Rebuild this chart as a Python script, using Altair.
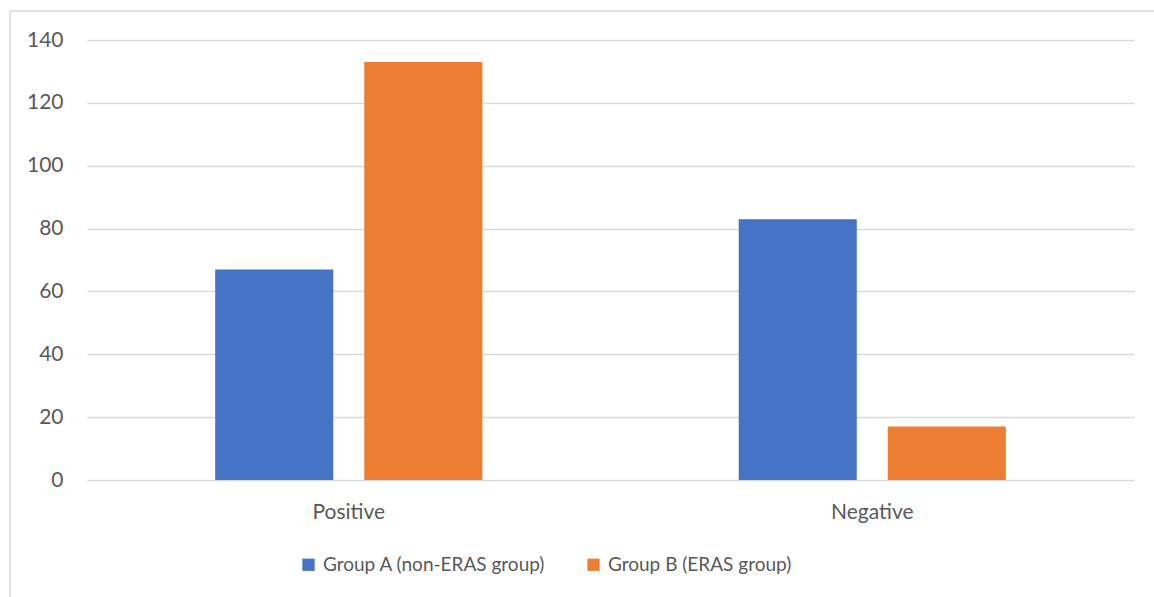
import altair as alt
import pandas as pd

categories = ["Positive", "Negative"]
groups = ["Group A (non-ERAS group)", "Group B (ERAS group)"]
group_a = [67, 83]
group_b = [133, 17]
colors = ["#4472C4", "#ED7D31"]

rows = []
for i, c in enumerate(categories):
    rows.append({"category": c, "group": groups[0], "value": group_a[i]})
    rows.append({"category": c, "group": groups[1], "value": group_b[i]})
df = pd.DataFrame(rows)

FONT = "Lato"
TXT = "#595959"
GRID = "#D9D9D9"
FS = 21

bars = alt.Chart(df).mark_bar().encode(
    x=alt.X("category:N", sort=categories,
            scale=alt.Scale(paddingInner=0, paddingOuter=0),
            axis=alt.Axis(title=None, labelAngle=0, ticks=False, domain=False,
                          labelPadding=21, labelFontSize=FS, labelColor=TXT,
                          labelFont=FONT, grid=False)),
    xOffset=alt.XOffset("group:N", sort=groups,
                        scale=alt.Scale(paddingInner=0.208, paddingOuter=0.86)),
    y=alt.Y("value:Q", scale=alt.Scale(domain=[0, 140]),
            axis=alt.Axis(title=None, values=list(range(0, 141, 20)), ticks=False,
                          domain=False, labelPadding=24, labelFontSize=FS,
                          labelColor=TXT, labelFont=FONT, grid=True,
                          gridColor=GRID, gridWidth=1.3)),
    color=alt.Color("group:N", sort=groups,
                    scale=alt.Scale(domain=groups, range=colors),
                    legend=alt.Legend(title=None, orient="none", direction="horizontal",
                                      legendX=212, legendY=515, symbolType="square",
                                      symbolSize=150, symbolStrokeWidth=0,
                                      labelFontSize=19, labelColor=TXT, labelFont=FONT,
                                      labelLimit=0, columnPadding=38, labelOffset=5,
                                      padding=0)),
)

border = alt.Chart(alt.Data(values=[{"k": 1}])).mark_rect(
    fill=None, stroke=GRID, strokeWidth=1.5
).encode(
    x=alt.value(-77), x2=alt.value(1075),
    y=alt.value(-29), y2=alt.value(570),
)

chart = alt.layer(border, bars).properties(
    width=1047, height=440,
    autosize=alt.AutoSizeParams(type="none"),
    padding={"left": 87, "top": 40, "right": 20, "bottom": 117},
    background="white",
).configure_view(stroke=None)

chart.save("out.html", embed_options={"renderer": "svg", "actions": False})
